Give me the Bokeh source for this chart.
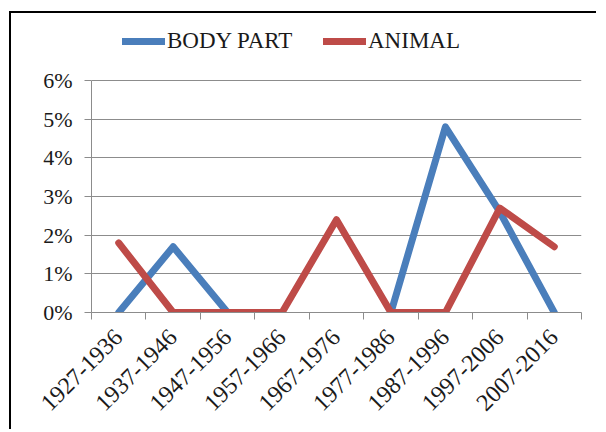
import numpy as np
from bokeh.plotting import figure
from bokeh.models import (FixedTicker, PrintfTickFormatter, Legend, LegendItem, Range1d)
from bokeh.embed import file_html
from bokeh.resources import INLINE

periods = ["1927-1936", "1937-1946", "1947-1956", "1957-1966", "1967-1976",
           "1977-1986", "1987-1996", "1997-2006", "2007-2016"]
body_part = [0.0, 1.7, 0.0, np.nan, np.nan, 0.0, 4.8, 2.6, 0.0]
animal = [1.8, 0.0, 0.0, 0.0, 2.4, 0.0, 0.0, 2.7, 1.7]
y_ticks = [0, 1, 2, 3, 4, 5, 6]

BLUE = "#4A7EBB"
RED = "#BE4B48"
FONT = "Liberation Serif"
TEXT = "#1a1a1a"

n = len(periods)
xs = [i + 0.5 for i in range(n)]

# frame spans from just below the top border down to the 0% line,
# so that the legend can sit inside it
p = figure(width=587, height=418, output_backend="svg", toolbar_location=None,
           x_range=Range1d(0, n), y_range=Range1d(0, 7.5),
           min_border_left=80, min_border_right=17, min_border_top=9, min_border_bottom=119)
p.styles = {"border-top": "2px solid black", "border-left": "2px solid black"}
p.margin = (11, 0, 0, 9)
p.outline_line_color = None
p.background_fill_color = "white"
p.border_fill_color = "white"

r1 = p.line(xs, body_part, line_color=BLUE, line_width=7, line_cap="round", line_join="round")
r2 = p.line(xs, animal, line_color=RED, line_width=7, line_cap="round", line_join="round")

# x axis
p.xaxis.ticker = FixedTicker(ticks=xs, minor_ticks=list(range(n + 1)))
p.xaxis.major_label_overrides = {x: lab for x, lab in zip(xs, periods)}
p.xaxis.major_label_orientation = np.pi / 4
p.xaxis.major_tick_line_color = None
p.xaxis.minor_tick_line_color = "#8c8c8c"
p.xaxis.minor_tick_out = 7
p.xaxis.minor_tick_in = 0
p.xaxis.axis_line_color = "#8c8c8c"
p.xaxis.major_label_text_font = FONT
p.xaxis.major_label_text_font_size = "24px"
p.xaxis.major_label_text_color = TEXT
p.xaxis.major_label_standoff = 14

# y axis
p.yaxis.ticker = FixedTicker(ticks=y_ticks)
p.yaxis.bounds = (0, 6)
p.yaxis.formatter = PrintfTickFormatter(format="%d%%")
p.yaxis.major_tick_out = 7
p.yaxis.major_tick_in = 0
p.yaxis.minor_tick_line_color = None
p.yaxis.major_tick_line_color = "#8c8c8c"
p.yaxis.axis_line_color = "#8c8c8c"
p.yaxis.major_label_text_font = FONT
p.yaxis.major_label_text_font_size = "22px"
p.yaxis.major_label_text_color = TEXT
p.yaxis.major_label_standoff = 12

p.xgrid.grid_line_color = None
p.ygrid.grid_line_color = "#8c8c8c"
p.ygrid.ticker = FixedTicker(ticks=y_ticks)

legend = Legend(items=[LegendItem(label="BODY PART", renderers=[r1]),
                       LegendItem(label="ANIMAL", renderers=[r2])],
                orientation="horizontal", location=(31, 258),
                padding=0, margin=0, spacing=20, label_standoff=2,
                glyph_width=43, glyph_height=20, label_width=136, label_height=20,
                border_line_color=None, background_fill_alpha=0,
                label_text_font=FONT, label_text_font_size="23px",
                label_text_color=TEXT)
p.add_layout(legend, "center")

open("out.html", "w").write(file_html(p, INLINE))
